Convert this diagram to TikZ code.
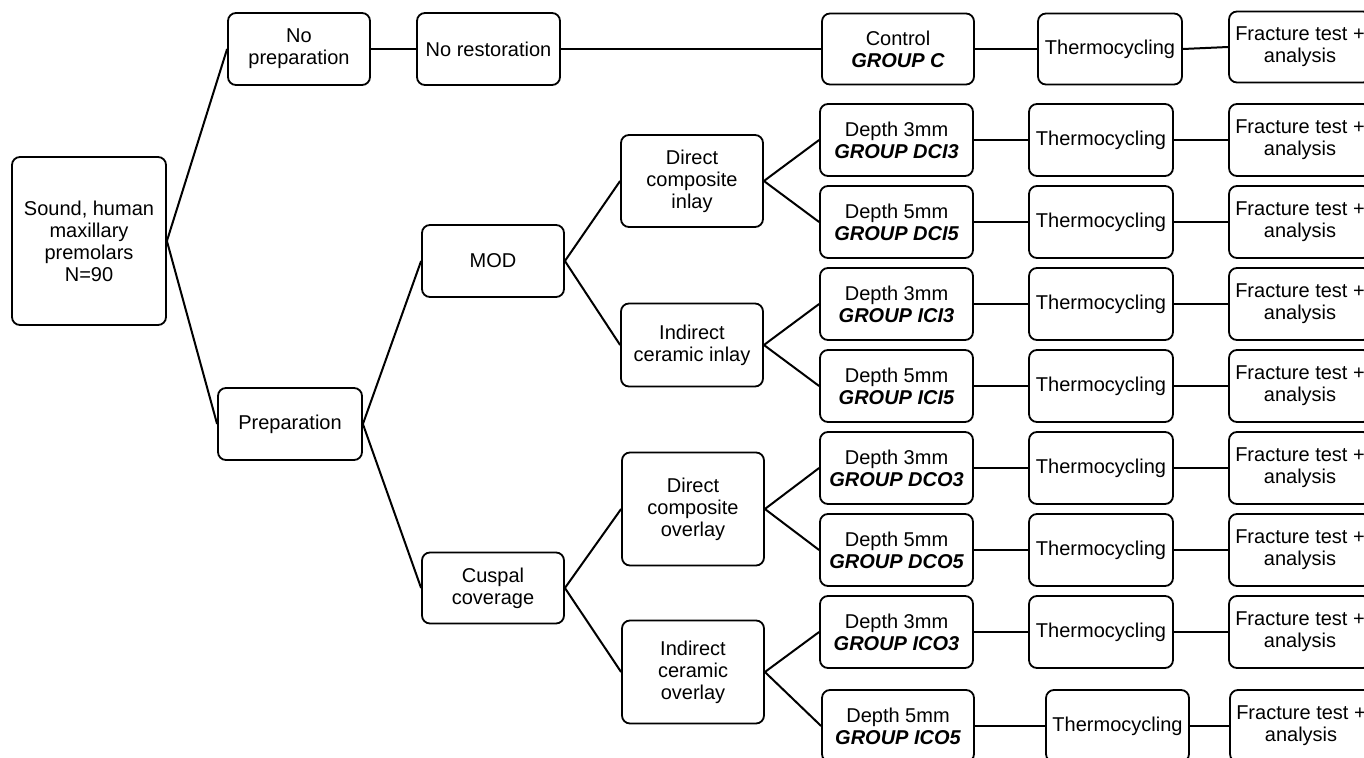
\documentclass[tikz,border=0pt]{standalone}
\usepackage{fontspec}
\setmainfont{Liberation Sans}
\begin{document}
\begin{tikzpicture}[x=1pt,y=-1pt,
  box/.style={draw=black, line width=1.8pt, rounded corners=8pt, fill=white,
    inner sep=0pt, align=center, font=\fontsize{20}{22}\selectfont},
  link/.style={line width=2pt, black}]
\clip (0,0) rectangle (1364,757);
\fill[white] (0,0) rectangle (1364,757);
% level 0-1
\node[box, minimum width=154pt, minimum height=168pt] (root) at (89,241) {Sound, human\\maxillary\\premolars\\N=90};
\node[box, minimum width=142pt, minimum height=72pt] (noprep) at (299,49) {No\\preparation};
\node[box, minimum width=143pt, minimum height=72pt] (norest) at (488.5,49) {No restoration};
\node[box, minimum width=144pt, minimum height=72pt] (prep) at (290,424) {Preparation};
% level 2
\node[box, minimum width=142pt, minimum height=72pt] (mod) at (493,261) {MOD};
\node[box, minimum width=142pt, minimum height=71pt] (cusp) at (493,588) {Cuspal\\coverage};
% level 3
\node[box, minimum width=142pt, minimum height=92pt] (dci) at (692,181) {Direct\\composite\\inlay};
\node[box, minimum width=142pt, minimum height=83pt] (ici) at (692,345) {Indirect\\ceramic inlay};
\node[box, minimum width=142pt, minimum height=113pt] (dco) at (693,509) {Direct\\composite\\overlay};
\node[box, minimum width=142pt, minimum height=103pt] (ico) at (693,672) {Indirect\\ceramic\\overlay};
% control row
\node[box, minimum width=152pt, minimum height=71pt] (ctrl) at (898,49) {Control\\{\bfseries\itshape GROUP C}};
\node[box, minimum width=144pt, minimum height=71pt] (thC) at (1110,49) {Thermocycling};
\node[box, minimum width=142pt, minimum height=71pt] (frC) at (1300,47) {Fracture test +\\analysis};
% group rows
\node[box, minimum width=153pt, minimum height=72pt] (dci3) at (896.5,140) {Depth 3mm\\{\bfseries\itshape GROUP DCI3}};
\node[box, minimum width=153pt, minimum height=72pt] (dci5) at (896.5,222) {Depth 5mm\\{\bfseries\itshape GROUP DCI5}};
\node[box, minimum width=153pt, minimum height=72pt] (ici3) at (896.5,304) {Depth 3mm\\{\bfseries\itshape GROUP ICI3}};
\node[box, minimum width=153pt, minimum height=72pt] (ici5) at (896.5,386) {Depth 5mm\\{\bfseries\itshape GROUP ICI5}};
\node[box, minimum width=153pt, minimum height=72pt] (dco3) at (896.5,468) {Depth 3mm\\{\bfseries\itshape GROUP DCO3}};
\node[box, minimum width=153pt, minimum height=72pt] (dco5) at (896.5,550) {Depth 5mm\\{\bfseries\itshape GROUP DCO5}};
\node[box, minimum width=153pt, minimum height=72pt] (ico3) at (896.5,632) {Depth 3mm\\{\bfseries\itshape GROUP ICO3}};
\node[box, minimum width=152pt, minimum height=72pt] (ico5) at (898,726) {Depth 5mm\\{\bfseries\itshape GROUP ICO5}};
% thermocycling
\node[box, minimum width=144pt, minimum height=72pt] (t1) at (1101,140) {Thermocycling};
\node[box, minimum width=144pt, minimum height=72pt] (t2) at (1101,222) {Thermocycling};
\node[box, minimum width=144pt, minimum height=72pt] (t3) at (1101,304) {Thermocycling};
\node[box, minimum width=144pt, minimum height=72pt] (t4) at (1101,386) {Thermocycling};
\node[box, minimum width=144pt, minimum height=72pt] (t5) at (1101,468) {Thermocycling};
\node[box, minimum width=144pt, minimum height=72pt] (t6) at (1101,550) {Thermocycling};
\node[box, minimum width=144pt, minimum height=72pt] (t7) at (1101,632) {Thermocycling};
\node[box, minimum width=143pt, minimum height=72pt] (t8) at (1117.5,726) {Thermocycling};
% fracture
\node[box, minimum width=142pt, minimum height=72pt] (f1) at (1300,140) {Fracture test +\\analysis};
\node[box, minimum width=142pt, minimum height=72pt] (f2) at (1300,222) {Fracture test +\\analysis};
\node[box, minimum width=142pt, minimum height=72pt] (f3) at (1300,304) {Fracture test +\\analysis};
\node[box, minimum width=142pt, minimum height=72pt] (f4) at (1300,386) {Fracture test +\\analysis};
\node[box, minimum width=142pt, minimum height=72pt] (f5) at (1300,468) {Fracture test +\\analysis};
\node[box, minimum width=142pt, minimum height=72pt] (f6) at (1300,550) {Fracture test +\\analysis};
\node[box, minimum width=142pt, minimum height=72pt] (f7) at (1300,632) {Fracture test +\\analysis};
\node[box, minimum width=142pt, minimum height=72pt] (f8) at (1301,726) {Fracture test +\\analysis};
% connectors
\draw[link] (root.east) -- (noprep.west);
\draw[link] (root.east) -- (prep.west);
\draw[link] (noprep.east) -- (norest.west);
\draw[link] (norest.east) -- (ctrl.west);
\draw[link] (ctrl.east) -- (thC.west);
\draw[link] (thC.east) -- (frC.west);
\draw[link] (prep.east) -- (mod.west);
\draw[link] (prep.east) -- (cusp.west);
\draw[link] (mod.east) -- (dci.west);
\draw[link] (mod.east) -- (ici.west);
\draw[link] (cusp.east) -- (dco.west);
\draw[link] (cusp.east) -- (ico.west);
\draw[link] (dci.east) -- (dci3.west);
\draw[link] (dci.east) -- (dci5.west);
\draw[link] (ici.east) -- (ici3.west);
\draw[link] (ici.east) -- (ici5.west);
\draw[link] (dco.east) -- (dco3.west);
\draw[link] (dco.east) -- (dco5.west);
\draw[link] (ico.east) -- (ico3.west);
\draw[link] (ico.east) -- (ico5.west);
\foreach \g/\t/\f in {dci3/t1/f1, dci5/t2/f2, ici3/t3/f3, ici5/t4/f4, dco3/t5/f5, dco5/t6/f6, ico3/t7/f7, ico5/t8/f8}{
  \draw[link] (\g.east) -- (\t.west);
  \draw[link] (\t.east) -- (\f.west);
}
\end{tikzpicture}
\end{document}
